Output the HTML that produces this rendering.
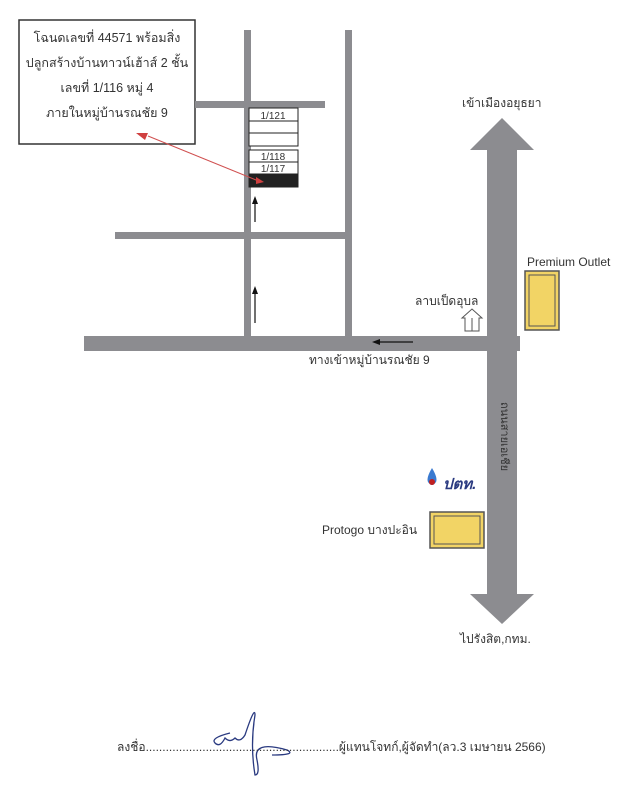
<!DOCTYPE html>
<html><head><meta charset="utf-8"><style>
body{margin:0;width:641px;height:800px;background:#fff;position:relative;overflow:hidden;font-family:"Liberation Sans","Noto Sans CJK SC",sans-serif;}
.a{position:absolute}
</style></head><body>
<svg class="a" style="left:0;top:0" width="641" height="800">
<rect x="19" y="20" width="176" height="124" fill="#fff" stroke="#333" stroke-width="1.5"/>
<g fill="#8c8c90">
<rect x="244" y="30" width="7" height="306"/>
<rect x="345" y="30" width="7" height="306"/>
<rect x="195" y="101" width="130" height="7"/>
<rect x="115" y="232" width="237" height="7"/>
<rect x="84" y="336" width="436" height="15"/>
<rect x="487" y="148" width="30" height="448"/>
<polygon points="502,118 470,150 534,150"/>
<polygon points="470,594 534,594 502,624"/>
</g>
<g stroke="#222" fill="#fff">
<rect x="249" y="108" width="49" height="13"/>
<rect x="249" y="121" width="49" height="12"/>
<rect x="249" y="133" width="49" height="13"/>
<rect x="249" y="150" width="49" height="12"/>
<rect x="249" y="162" width="49" height="12"/>
<rect x="249" y="174" width="49" height="13" fill="#222"/>
</g>
<g font-size="10" fill="#333" text-anchor="middle" font-family="Liberation Sans">
<text x="273" y="119">1/121</text><text x="273" y="160">1/118</text><text x="273" y="172">1/117</text>
</g>
<line x1="148" y1="136" x2="256" y2="180" stroke="#d05050"/>
<polygon points="136,133 148,133 145,140" fill="#d04040"/>
<polygon points="256,177 264,182 256,184" fill="#d04040"/>
<g stroke="#111" stroke-width="1.2">
<line x1="255" y1="222" x2="255" y2="200"/><line x1="255" y1="323" x2="255" y2="290"/>
<line x1="413" y1="342" x2="375" y2="342"/>
</g>
<g fill="#111"><polygon points="255,196 252,204 258,204"/><polygon points="255,286 252,294 258,294"/><polygon points="372,342 380,339 380,345"/></g>
<g stroke="#555" stroke-width="1.5" fill="#f2d465">
<rect x="525" y="271" width="34" height="59"/>
<rect x="430" y="512" width="54" height="36"/>
</g>
<g stroke="#555" fill="none"><rect x="529" y="275" width="26" height="51"/><rect x="434" y="516" width="46" height="28"/></g>
<g stroke="#555" fill="#fff"><polygon points="472,318 472,331 479,331 479,318 482,318 472,309 462,318 465,318 465,331 472,331"/></g>
<path d="M432 468 q-6 10 -4 14 q4 6 8 0 q2 -4 -4 -14z" fill="#3a7ad0"/><circle cx="432" cy="482" r="3" fill="#c02020"/>
<path d="M230 733 q-20 5 -15 10 q5 5 10 -5 q5 5 10 0 q5 5 10 -3 q10 -30 10 -20 q-5 30 0 60 q5 0 2 -15 q-5 -20 30 -10 q10 5 -15 5" stroke="#2a3a80" fill="none" stroke-width="1.3"/>
</svg>
<div class="a" style="left:19px;top:26px;width:176px;text-align:center;font-size:12.5px;line-height:25px;color:#333">โฉนดเลขที่ 44571 พร้อมสิ่ง<br>ปลูกสร้างบ้านทาวน์เฮ้าส์ 2 ชั้น<br>เลขที่ 1/116 หมู่ 4<br>ภายในหมู่บ้านรณชัย 9</div>
<div class="a" style="left:462px;top:94px;font-size:12px;color:#333">เข้าเมืองอยุธยา</div>
<div class="a" style="left:527px;top:255px;font-size:12px;color:#333">Premium Outlet</div>
<div class="a" style="left:415px;top:292px;font-size:12px;color:#333">ลาบเป็ดอุบล</div>
<div class="a" style="left:309px;top:351px;font-size:12px;color:#333">ทางเข้าหมู่บ้านรณชัย 9</div>
<div class="a" style="left:495px;top:402px;font-size:11px;color:#333;writing-mode:vertical-rl">ถนนสายเอเชีย</div>
<div class="a" style="left:443px;top:472px;font-size:15px;font-weight:bold;font-style:italic;color:#2a3a80">ปตท.</div>
<div class="a" style="left:322px;top:521px;font-size:12px;color:#333">Protogo บางปะอิน</div>
<div class="a" style="left:460px;top:630px;font-size:12px;color:#333">ไปรังสิต,กทม.</div>
<div class="a" style="left:117px;top:738px;font-size:12px;color:#333">ลงชื่อ..........................................................ผู้แทนโจทก์,ผู้จัดทำ(ลว.3 เมษายน 2566)</div>
</body></html>
